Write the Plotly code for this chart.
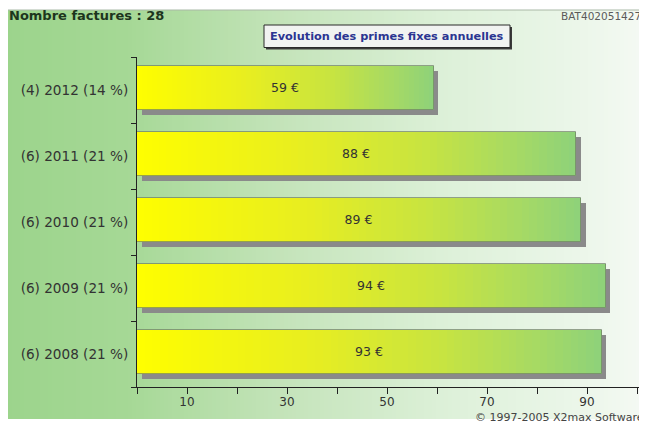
import plotly.graph_objects as go

# ---------------- data ----------------
years = ["2012", "2011", "2010", "2009", "2008"]
invoice_counts = [4, 6, 6, 6, 6]
shares_pct = [14, 21, 21, 21, 21]
amounts = [59.3, 87.8, 88.8, 93.7, 92.9]          # bar lengths (EUR)
x_tick_vals = [0, 10, 20, 30, 40, 50, 60, 70, 80, 90, 100]
x_tick_labels = ["", "10", "", "30", "", "50", "", "70", "", "90", ""]

header_left = "Nombre factures : 28"
header_right = "BAT402051427"
chart_title = "Evolution des primes fixes annuelles"
copyright_text = "© 1997-2005 X2max Software"

labels = [f"({n}) {y} ({p} %)" for n, y, p in zip(invoice_counts, years, shares_pct)]
value_texts = [f"{round(v)} €" for v in amounts]

# ---------------- geometry helpers (page pixels -> paper) ----------------
PAGE_W, PAGE_H = 647, 423
O = 8                       # default page body margin
W, H = PAGE_W - O, PAGE_H - O
L, R, T, B = 137, 640, 57, 387   # plot area in page pixels


def px(x):
    return (x - L) / (R - L)


def py(y):
    return (B - y) / (B - T)


def lerp_stops(stops, t):
    for (t0, c0), (t1, c1) in zip(stops[:-1], stops[1:]):
        if t <= t1:
            f = 0 if t1 == t0 else (t - t0) / (t1 - t0)
            f = max(0.0, min(1.0, f))
            return tuple(round(a + (b - a) * f) for a, b in zip(c0, c1))
    return stops[-1][1]


def rgb(c):
    return "rgb(%d,%d,%d)" % c


# ---------------- background gradient (shapes) ----------------
bg_stops = [(5, (156, 212, 140)), (124, (165, 216, 149)), (289, (197, 228, 187)),
            (454, (222, 241, 218)), (578, (235, 246, 233)), (647, (245, 250, 244))]
shapes = []
step = 4
x = O
while x < PAGE_W:
    c = lerp_stops(bg_stops, x + step / 2)
    shapes.append(dict(type="rect", xref="paper", yref="paper", layer="below",
                       x0=px(x), x1=px(min(x + step + 0.6, PAGE_W)), y0=py(419), y1=py(10),
                       fillcolor=rgb(c), line=dict(width=0)))
    x += step
shapes.append(dict(type="line", xref="paper", yref="paper", layer="below",
                   x0=px(O), x1=px(PAGE_W), y0=py(10), y1=py(10),
                   line=dict(color="#a9b8a6", width=1)))

# title box with shadow
shapes.append(dict(type="rect", xref="paper", yref="paper", layer="above",
                   x0=px(266), x1=px(512), y0=py(49.5), y1=py(27),
                   fillcolor="#3a3a3a", line=dict(width=0)))
shapes.append(dict(type="rect", xref="paper", yref="paper", layer="above",
                   x0=px(264), x1=px(510), y0=py(47.5), y1=py(25),
                   fillcolor="#f1f3f1", line=dict(color="#2a2a2a", width=1)))

# ---------------- bars ----------------
bar_stops = [(0.0, (255, 255, 0)), (0.08, (250, 250, 6)), (0.37, (232, 238, 32)),
             (0.65, (200, 228, 64)), (0.85, (168, 218, 98)), (1.0, (142, 210, 122))]
N = 60
seg_y, seg_base, seg_x, seg_col = [], [], [], []
for lab, v in zip(labels, amounts):
    for i in range(N):
        seg_y.append(lab)
        seg_base.append(v * i / N)
        seg_x.append(v / N * (1.6 if i < N - 1 else 1.0))
        seg_col.append(rgb(lerp_stops(bar_stops, (i + 0.5) / N)))

BAR_W = 0.656
BAR_OFF = -0.298
SHADOW_DX = 0.9
SHADOW_OFF = -0.374

fig = go.Figure()
fig.add_trace(go.Bar(
    y=labels, x=amounts, base=[SHADOW_DX] * len(amounts), orientation="h",
    width=BAR_W, offset=SHADOW_OFF, marker=dict(color="#8a8a8a", line=dict(width=0)),
    hoverinfo="skip", showlegend=False))
fig.add_trace(go.Bar(
    y=seg_y, x=seg_x, base=seg_base, orientation="h",
    width=BAR_W, offset=BAR_OFF, marker=dict(color=seg_col, line=dict(width=0)),
    hoverinfo="skip", showlegend=False))
fig.add_trace(go.Bar(
    y=labels, x=amounts, base=[0] * len(amounts), orientation="h",
    width=BAR_W, offset=BAR_OFF,
    marker=dict(color="rgba(0,0,0,0)", line=dict(color="rgba(110,125,100,0.7)", width=1)),
    text=value_texts, textposition="inside", insidetextanchor="middle", textangle=0,
    textfont=dict(family="Verdana, DejaVu Sans", size=12.5, color="#333333"),
    hoverinfo="skip", showlegend=False))

# ---------------- annotations ----------------
annotations = [
    dict(text=f"<b>{header_left}</b>", xref="paper", yref="paper", x=px(7), y=py(16),
         xanchor="left", yanchor="middle", showarrow=False,
         font=dict(family="Verdana, DejaVu Sans", size=13, color="#1d351d")),
    dict(text=header_right, xref="paper", yref="paper", x=px(643), y=py(16),
         xanchor="right", yanchor="middle", showarrow=False,
         font=dict(family="Verdana, DejaVu Sans", size=10.5, color="#5a5a5a")),
    dict(text=f"<b>{chart_title}</b>", xref="paper", yref="paper", x=px(387), y=py(36.5),
         xanchor="center", yanchor="middle", showarrow=False,
         font=dict(family="Verdana, DejaVu Sans", size=11.3, color="#2b3591")),
    dict(text=copyright_text, xref="paper", yref="paper", x=px(646), y=py(417),
         xanchor="right", yanchor="middle", showarrow=False,
         font=dict(family="Verdana, DejaVu Sans", size=11, color="#444444")),
]

fig.update_layout(
    width=W, height=H, autosize=False,
    margin=dict(l=L - O, r=PAGE_W - R, t=T - O, b=PAGE_H - B, pad=0),
    paper_bgcolor="white", plot_bgcolor="rgba(255,255,255,0.17)",
    barmode="overlay", bargap=0, showlegend=False,
    shapes=shapes, annotations=annotations,
    font=dict(family="Verdana, DejaVu Sans", color="#333333"),
    xaxis=dict(range=[0, 100.6], showgrid=False, zeroline=False, showline=True,
               linecolor="#222222", linewidth=1, ticks="outside", ticklen=6,
               tickcolor="#222222", tickvals=x_tick_vals, ticktext=x_tick_labels,
               tickfont=dict(size=12, color="#333333"), ticklabelstandoff=-2,
               fixedrange=True),
    yaxis=dict(type="category", categoryorder="array", categoryarray=labels[::-1],
               showgrid=False, zeroline=False, showline=True, linecolor="#222222",
               linewidth=1, ticks="outside", tickson="boundaries", ticklen=5,
               tickcolor="#222222", tickfont=dict(size=13.6, color="#333333"),
               ticklabelstandoff=5, fixedrange=True),
)

fig.write_html("out.html")
